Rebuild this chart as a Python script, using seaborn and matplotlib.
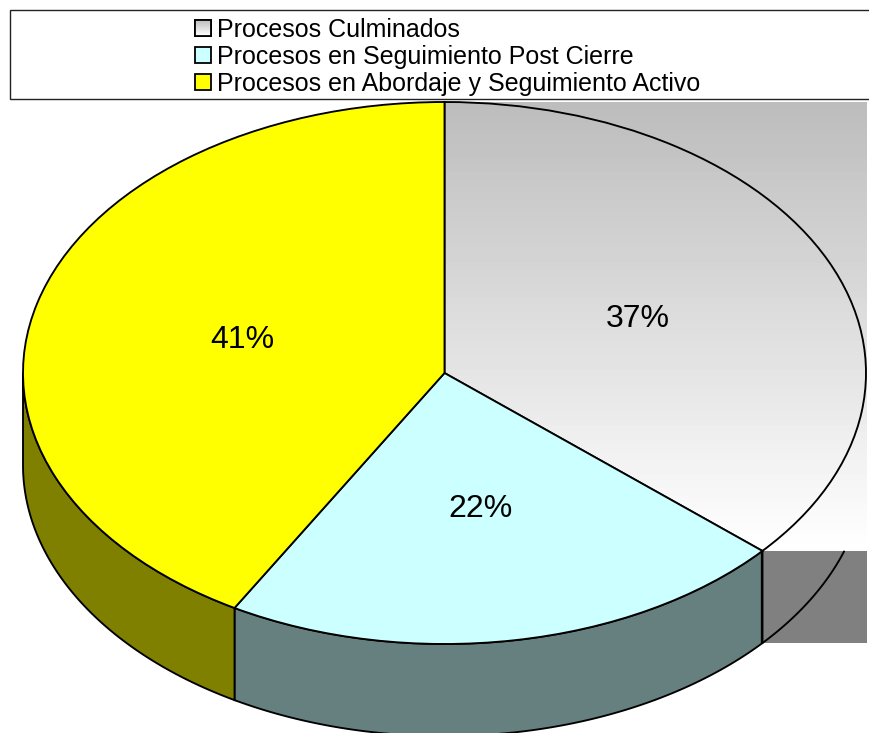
import numpy as np
import matplotlib
matplotlib.use("Agg")
import matplotlib.pyplot as plt
from matplotlib.patches import Patch, Rectangle
import seaborn as sns

# ---- data ----
categories = ["Procesos Culminados",
              "Procesos en Seguimiento Post Cierre",
              "Procesos en Abordaje y Seguimiento Activo"]
shares = [36.4, 21.9, 41.7]          # slice sizes as drawn
share_labels = ["37%", "22%", "41%"]
top_colors = ["#E4E4E4", "#CCFFFF", "#FFFF00"]
side_colors = ["#808080", "#668080", "#808000"]
gradient_top = 0.74
depth = 0.34                         # thickness of the disc, in pie radii (vertical)

sns.set_theme(style="white")
plt.rcParams["font.family"] = ["Liberation Sans", "DejaVu Sans"]
plt.rcParams["text.color"] = "black"

W, H = 869, 733
CX, CY, RX, RY = 444.5, 373.0, 421.5, 271.0
LW = 1.35

fig = plt.figure(figsize=(W / 100, H / 100), dpi=100, facecolor="white")
ax = fig.add_axes([0, 0, 1, 1])

labels_iter = iter(share_labels)
wedges, _, autotexts = ax.pie(
    shares, startangle=90, counterclock=False, radius=1,
    colors=["none", top_colors[1], top_colors[2]],
    autopct=lambda p: next(labels_iter), pctdistance=0.5,
    wedgeprops=dict(edgecolor="black", linewidth=LW, zorder=4),
    textprops=dict(fontsize=23, color="black", zorder=7),
)
ax.set_aspect("auto")

# slice edges, as sweep angles clockwise from the top
edges = np.radians(np.concatenate([[0], np.cumsum(shares)]) / np.sum(shares) * 360)


def ell(t, drop=0.0):
    return np.sin(t), np.cos(t) - drop


# front walls of the disc
for i in (1, 2):
    t0, t1 = edges[i], min(edges[i + 1], 1.5 * np.pi)
    t = np.linspace(t0, t1, 200)
    xt, yt = ell(t)
    xb, yb = ell(t[::-1], depth)
    ax.fill(np.r_[xt, xb], np.r_[yt, yb], facecolor=side_colors[i],
            edgecolor="black", linewidth=LW, zorder=3)

# first slice: its fill covers the whole bounding box of the slice
b_x, b_y = ell(edges[1])
ax.add_patch(Rectangle((b_x, b_y - depth), 1.003 - b_x, depth, facecolor=side_colors[0],
                       edgecolor="none", zorder=1))
t = np.linspace(0.5 * np.pi, edges[1], 200)
xb, yb = ell(t, depth)
keep = yb <= b_y
ax.plot(xb[keep], yb[keep], color="black", lw=LW, zorder=2)
ax.plot([b_x, b_x], [b_y, b_y - depth], color="black", lw=LW + 0.3, zorder=3.5)

grad = np.linspace(gradient_top, 1.0, 64).reshape(-1, 1)
ax.imshow(grad, cmap="gray", vmin=0, vmax=1, aspect="auto",
          extent=(0, 1.003, b_y, 1), origin="upper", zorder=0.5, interpolation="nearest")

ax.set_xlim((0 - CX) / RX, (W - CX) / RX)
ax.set_ylim((CY - H) / RY, CY / RY)
ax.axis("off")

for txt in autotexts:
    txt.set_ha("center")
    txt.set_va("center")
    x_, y_ = txt.get_position()
    txt.set_position((x_ + 1.0 / RX, y_ - 2.0 / RY))

# legend box, running off the right edge
to_data = fig.transFigure + ax.transData.inverted()
x0, y1 = to_data.transform((10 / W, 1 - 10 / H))
x1, y0 = to_data.transform((1.02, 1 - 99 / H))
ax.add_patch(Rectangle((x0, y0), x1 - x0, y1 - y0, facecolor="white",
                       edgecolor="#222222", linewidth=1.0, zorder=5, clip_on=True))

handles = [Patch(facecolor=c, edgecolor="black", linewidth=1.3) for c in top_colors]
leg = ax.legend(handles, categories, loc="upper left",
                bbox_to_anchor=(195 / W, 1 - 18 / H), bbox_transform=fig.transFigure,
                frameon=False, fontsize=18, handlelength=0.64, handleheight=0.6,
                handletextpad=0.25, labelspacing=0.12, borderpad=0, borderaxespad=0,
                labelcolor="black")
leg.set_zorder(6)

# gradient in the first legend key
fig.canvas.draw()
bb = leg.legend_handles[0].get_window_extent()
(hx0, hy0), (hx1, hy1) = ax.transData.inverted().transform([(bb.x0, bb.y0), (bb.x1, bb.y1)])
xl, yl = ax.get_xlim(), ax.get_ylim()
ax.imshow(grad, cmap="gray", vmin=0, vmax=1, aspect="auto",
          extent=(hx0, hx1, hy0, hy1), origin="upper", zorder=7, interpolation="nearest")
ax.add_patch(Rectangle((hx0, hy0), hx1 - hx0, hy1 - hy0, facecolor="none",
                       edgecolor="black", linewidth=1.3, zorder=8))
ax.set_xlim(xl)
ax.set_ylim(yl)

fig.savefig("out.png", dpi=100)
